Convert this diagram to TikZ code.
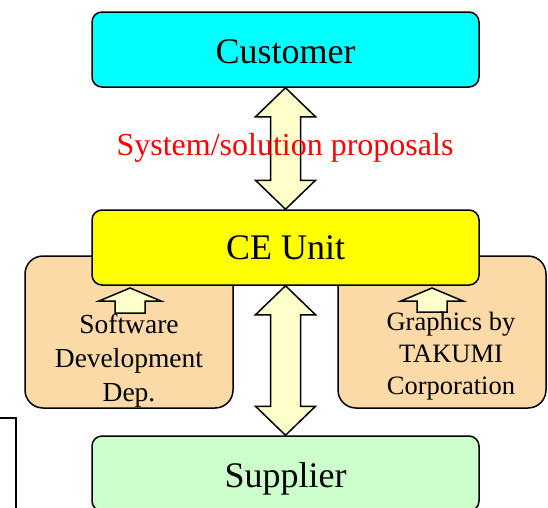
\documentclass[tikz,border=0pt]{standalone}
\usepackage{fontspec}
\setmainfont{Liberation Serif}
\usetikzlibrary{calc}
\definecolor{custcyan}{RGB}{0,255,255}
\definecolor{ceyellow}{RGB}{255,255,0}
\definecolor{peach}{RGB}{252,218,168}
\definecolor{supgreen}{RGB}{204,255,204}
\definecolor{arrfill}{RGB}{255,255,204}
\newcommand\blockdbl[2]{%
  \draw[blockarr] let \p1=(#1), \p2=(#2) in
    (\x1,\y1) -- (\x1+30pt,\y1-29pt) -- (\x1+15pt,\y1-29pt) -- (\x1+15pt,\y2+29pt)
    -- (\x1+30pt,\y2+29pt) -- (\x2,\y2) -- (\x1-30pt,\y2+29pt) -- (\x1-15pt,\y2+29pt)
    -- (\x1-15pt,\y1-29pt) -- (\x1-30pt,\y1-29pt) -- cycle;}
\newcommand\blockup[2]{%
  \draw[blockarr] let \p1=(#1), \p2=(#2) in
    (\x1-15pt,\y1) -- (\x1-15pt,\y2-13pt) -- (\x1-31pt,\y2-13pt) -- (\x2,\y2)
    -- (\x1+31pt,\y2-13pt) -- (\x1+15pt,\y2-13pt) -- (\x1+15pt,\y1) -- cycle;}
\begin{document}
\begin{tikzpicture}[x=1pt,y=-1pt,
  box/.style={draw=black, line width=1.5pt, rounded corners=10pt, minimum width=387pt,
    minimum height=75pt, inner sep=0pt, font=\fontsize{36}{40}\selectfont},
  dept/.style={draw=black, line width=1.5pt, rounded corners=18pt, fill=peach,
    minimum width=208pt, minimum height=152pt, inner sep=0pt},
  depttext/.style={align=center, inner sep=0pt},
  blockarr/.style={draw=black, line width=1.5pt, fill=arrfill, line join=miter}]
\useasboundingbox (0,0) rectangle (548,507);
\clip (0,0) rectangle (548,507);
% partial box at lower left
\draw[line width=1.5pt] (-20,418) rectangle (16,530);
% department boxes
\node[dept] (sw) at (129,332) {};
\node[dept] (tk) at (442,332) {};
% main boxes
\node[box, fill=custcyan, text height=27pt, text depth=0pt] (cust) at (285.5,49.5) {Customer};
\node[box, fill=ceyellow, text height=23pt, text depth=0pt] (ce) at (285.5,247.5) {CE Unit};
\node[box, fill=supgreen, text height=27pt, text depth=0pt] (sup) at (285.5,473.5) {Supplier};
% double arrows
\blockdbl{cust.south}{ce.north}
\blockdbl{ce.south}{sup.north}
\node[text=red, font=\fontsize{32}{36}\selectfont, anchor=base] (prop) at (285,155) {System/solution proposals};
% small up arrows
\coordinate (swbase) at (130,313);
\coordinate (swtip) at (130,288);
\coordinate (tkbase) at (432,312);
\coordinate (tktip) at (432,288);
\blockup{swbase}{swtip}
\blockup{tkbase}{tktip}
\node[depttext, font=\fontsize{27.5}{34}\selectfont] (swt) at (129,361) {Software\\Development\\Dep.};
\node[depttext, font=\fontsize{26.5}{32}\selectfont] (tkt) at (451,356) {Graphics by\\TAKUMI\\Corporation};
\end{tikzpicture}
\end{document}
